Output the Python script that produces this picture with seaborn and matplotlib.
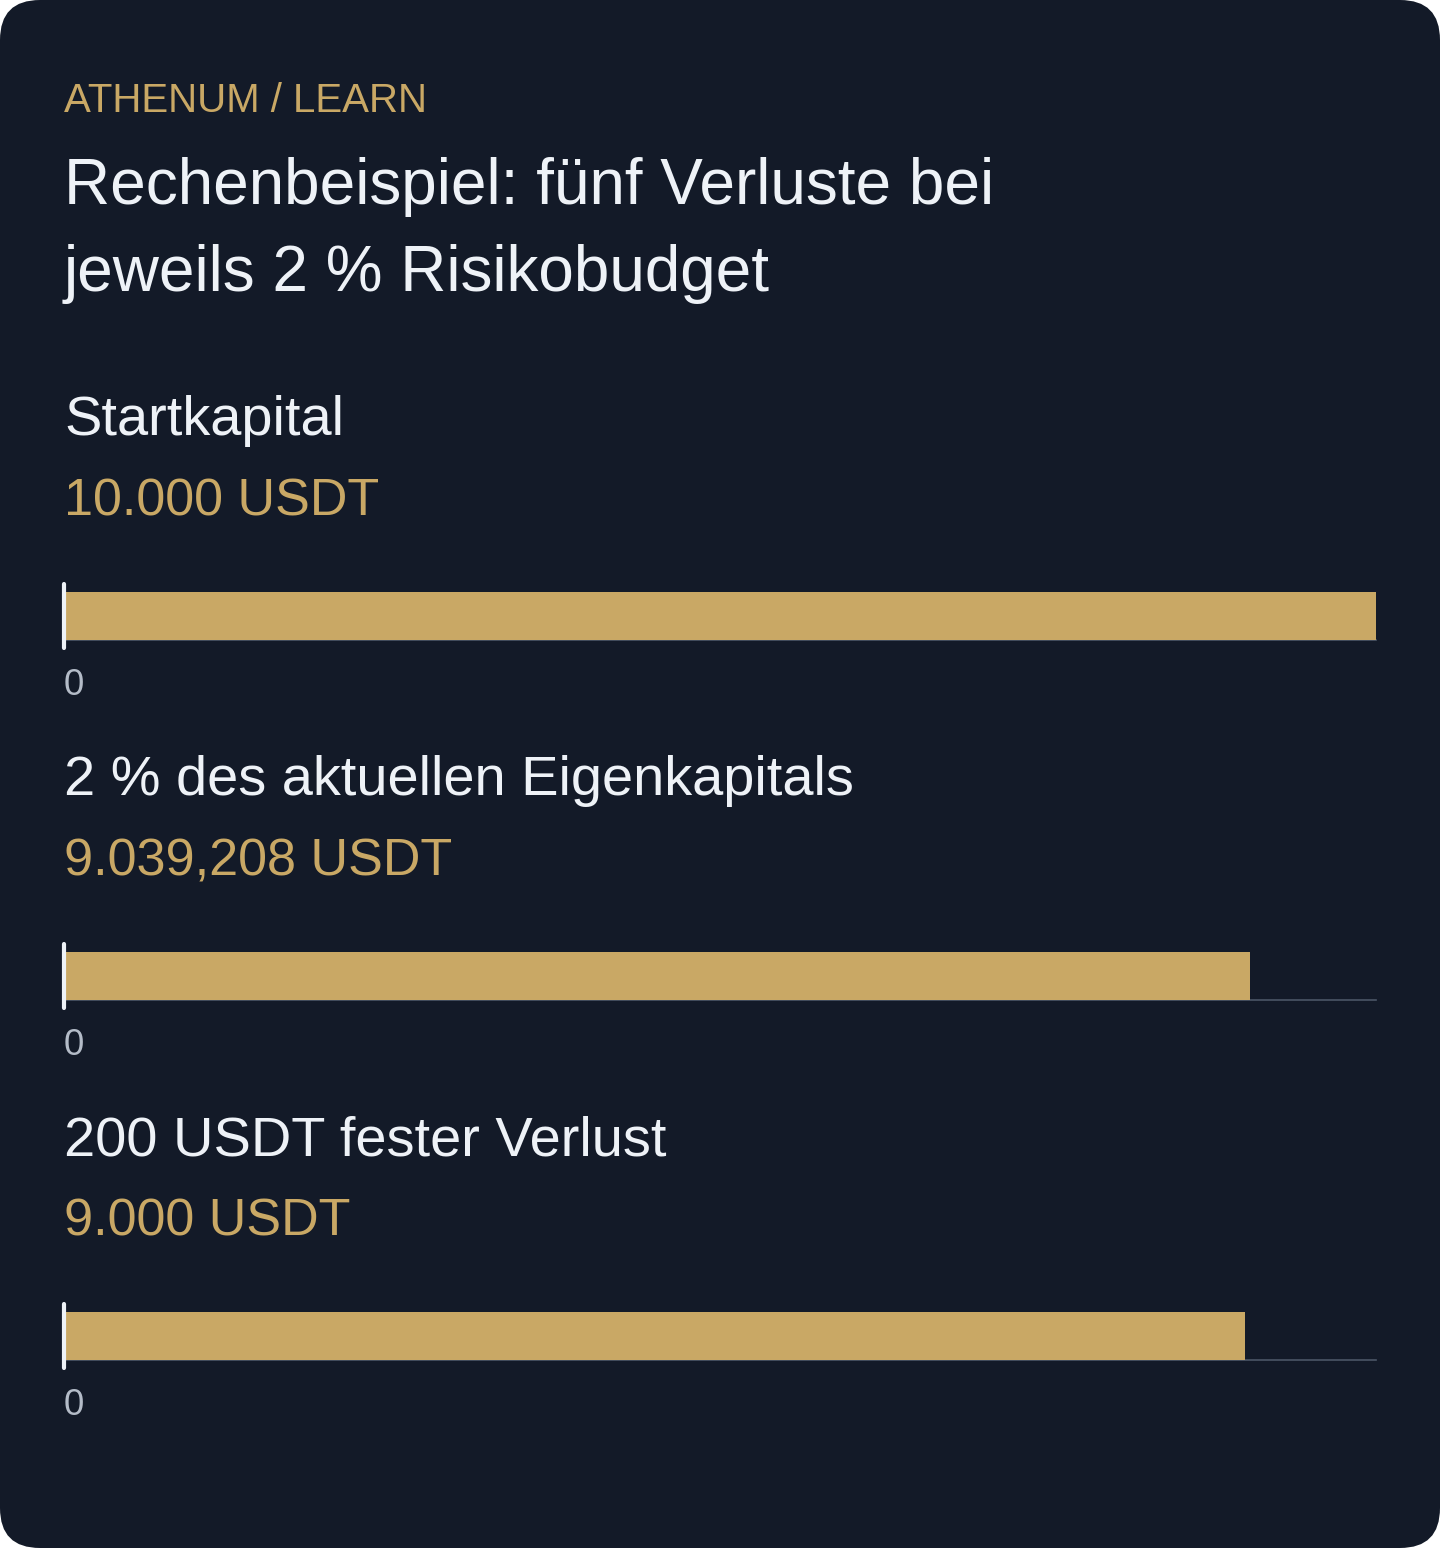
import matplotlib
matplotlib.use("Agg")
import matplotlib.pyplot as plt
import matplotlib.transforms as mtransforms
from matplotlib.patches import FancyBboxPatch
import seaborn as sns
import pandas as pd

# chart data
labels = ["Startkapital", "2 % des aktuellen Eigenkapitals", "200 USDT fester Verlust"]
values = [10000, 9039.208, 9000]
x_max = 10000

kicker = "ATHENUM / LEARN"
title_lines = ["Rechenbeispiel: fünf Verluste bei", "jeweils 2 % Risikobudget"]

BG = "#131a28"
GOLD = "#c9a865"
WHITE = "#eef2f7"
MUTED = "#b4bcc8"
GRID = "#4b5566"

W, H = 1440, 1548

sns.set_style("dark")
plt.rcParams["font.family"] = ["Liberation Sans", "DejaVu Sans"]


def de_format(v):
    s = f"{v:,.3f}".rstrip("0").rstrip(".")
    return s.replace(",", "#").replace(".", ",").replace("#", ".") + " USDT"


df = pd.DataFrame({"label": labels, "value": values})

fig = plt.figure(figsize=(W / 100, H / 100), dpi=100)
fig.patch.set_facecolor("white")

# rounded card in pixel coords, behind everything
card = FancyBboxPatch((0, 0), W, H, boxstyle="round,pad=0,rounding_size=40",
                      transform=mtransforms.IdentityTransform(),
                      facecolor=BG, edgecolor="none", zorder=-10)
fig.patches.append(card)


def fy(py):
    return 1 - py / H


fig.text(64 / W, fy(112), kicker, color=GOLD, fontsize=29, va="baseline")
fig.text(64 / W, fy(204), title_lines[0], color=WHITE, fontsize=46, va="baseline")
fig.text(64 / W, fy(291), title_lines[1], color=WHITE, fontsize=46, va="baseline")

step = 360
for i, row in df.iterrows():
    off = i * step
    fig.text(64 / W, fy(435 + off), row["label"], color=WHITE, fontsize=40.3, va="baseline")
    fig.text(64 / W, fy(515 + off), de_format(row["value"]), color=GOLD, fontsize=37.5,
             va="baseline")

    ax = fig.add_axes([64 / W, fy(640 + off), 1312 / W, 56 / H])
    ax.set_facecolor("none")
    sns.barplot(data=df.iloc[[i]], x="value", y="label", orient="h", color=GOLD,
                width=0.8, saturation=1, linewidth=0, ax=ax, zorder=3)
    ax.set_xlim(0, x_max)
    ax.set_ylim(0.4, -0.4 - 0.8 * 8 / 48)
    for s in ["top", "right", "left"]:
        ax.spines[s].set_visible(False)
    ax.spines["bottom"].set_color(GRID)
    ax.spines["bottom"].set_linewidth(1.2)
    ax.spines["bottom"].set_zorder(2)
    ax.grid(False)
    ax.set_yticks([])
    ax.set_xlabel("")
    ax.set_ylabel("")
    ax.set_xticks([0])
    ax.set_xticklabels(["0"], color=MUTED, fontsize=26.5, ha="left")
    ax.tick_params(axis="x", length=0, pad=20.5)
    ax.axvline(0, ymin=-8 / 56, ymax=1, color=WHITE, lw=3, clip_on=False, zorder=5)

fig.savefig("out.png", dpi=100, facecolor=fig.get_facecolor())
